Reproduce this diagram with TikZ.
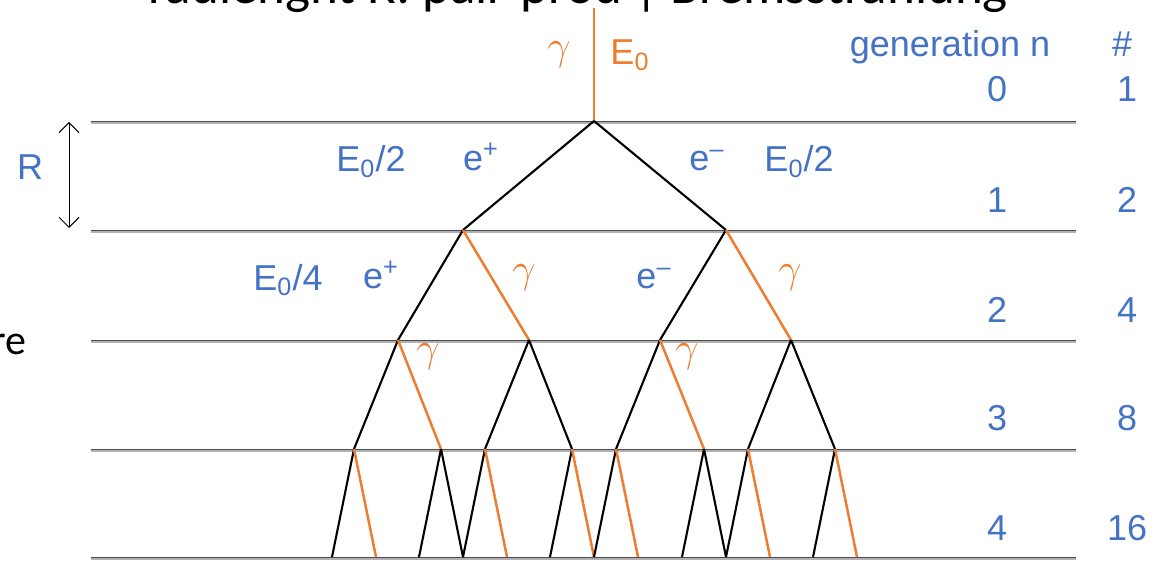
\documentclass[tikz,border=0pt]{standalone}
\usepackage{fontspec}
\setmainfont{Liberation Sans}
\newfontfamily\titlefont{Carlito}
\usetikzlibrary{arrows.meta}
\definecolor{ofcorange}{HTML}{ED7D31}
\definecolor{ofcblue}{HTML}{4472C4}
\begin{document}
\begin{tikzpicture}[x=0.5pt,y=-0.5pt,
  lvl/.style={draw=black!30, line width=1.4pt},
  lvltop/.style={draw=black!70, line width=0.45pt},
  el/.style={draw=black, line width=1.05pt},
  ph/.style={draw=ofcorange, line width=1.25pt},
  lbl/.style={text=ofcblue, font=\fontsize{18}{20}\selectfont, inner sep=0pt, anchor=base},
  glbl/.style={text=ofcorange, font=\fontsize{21}{23}\selectfont, inner sep=0pt},
  big/.style={text=black, inner sep=0pt}]
\useasboundingbox (0,0) rectangle (1154,561);
% clipped title and side text
\node[big, anchor=base west, font=\titlefont\fontsize{26.5}{28}\selectfont] (title) at (148,4) {radlenght R: pair-prod | Bremsstrahlung};
\node[big, anchor=base east, font=\titlefont\fontsize{21}{23}\selectfont] (re) at (27,354) {re};
% level lines
\foreach \y [count=\i from 0] in {121,230,340,449,557} {
  \coordinate (l\i w) at (91,\y);
  \coordinate (l\i e) at (1076,\y);
  \draw[lvl] ([yshift=-0.7pt]l\i w) -- ([yshift=-0.7pt]l\i e);
  \draw[lvltop] (l\i w) -- (l\i e);
}
% tree vertices
\coordinate (top) at (594,8);
\coordinate (r) at (594,121);
\coordinate (a1) at (463,230); \coordinate (a2) at (726,230);
\foreach \n/\x in {1/398,2/529,3/660,4/791} \coordinate (b\n) at (\x,340);
\foreach \n/\x in {1/354,2/441,3/485,4/572,5/616,6/704,7/748,8/835} \coordinate (c\n) at (\x,449);
\foreach \n/\x in {1/332,2/376,3/419,4/463,5/507,6/550,7/594,8/638,9/682,10/726,11/770,12/813,13/857} \coordinate (d\n) at (\x,557);
% edges
\draw[ph] (top) -- (r);
\draw[el] (r) -- (a1); \draw[el] (r) -- (a2);
\draw[el] (a1) -- (b1); \draw[ph] (a1) -- (b2);
\draw[el] (a2) -- (b3); \draw[ph] (a2) -- (b4);
\draw[el] (b1) -- (c1); \draw[ph] (b1) -- (c2);
\draw[el] (b2) -- (c3); \draw[el] (b2) -- (c4);
\draw[el] (b3) -- (c5); \draw[ph] (b3) -- (c6);
\draw[el] (b4) -- (c7); \draw[el] (b4) -- (c8);
\draw[el] (c1) -- (d1); \draw[ph] (c1) -- (d2);
\draw[el] (c2) -- (d3); \draw[el] (c2) -- (d4);
\draw[el] (c3) -- (d4); \draw[ph] (c3) -- (d5);
\draw[el] (c4) -- (d6); \draw[ph] (c4) -- (d7);
\draw[el] (c5) -- (d7); \draw[ph] (c5) -- (d8);
\draw[el] (c6) -- (d9); \draw[el] (c6) -- (d10);
\draw[el] (c7) -- (d10); \draw[ph] (c7) -- (d11);
\draw[el] (c8) -- (d12); \draw[ph] (c8) -- (d13);
% R arrow
\coordinate (ra) at (69,122); \coordinate (rb) at (69,228);
\draw[line width=0.5pt, {Straight Barb[length=5pt,width=10pt]}-{Straight Barb[length=5pt,width=10pt]}] (ra) -- (rb);
\node[lbl] (R) at (30,180) {R};
% top labels
\node[glbl] (g0) at (559,55) {$\gamma$};
\node[lbl, text=ofcorange] (E0) at (630,65) {E\textsubscript{0}};
\node[lbl] (gen) at (950,57) {generation n};
\node[lbl] (hash) at (1122,57) {\#};
\foreach \g/\c/\yb in {0/1/102,1/2/213,2/4/322,3/8/430,4/16/540} {
  \node[lbl] (gn\g) at (997,\yb) {\g};
  \node[lbl] (cn\g) at (1127,\yb) {\c};
}
% generation 1 labels
\node[lbl] (e1l) at (371,172) {E\textsubscript{0}/2};
\node[lbl] (ep1) at (481,170) {e\textsuperscript{+}};
\node[lbl] (em1) at (707,170) {e\textsuperscript{–}};
\node[lbl] (e1r) at (799,172) {E\textsubscript{0}/2};
% generation 2 labels
\node[lbl] (e2l) at (288,290) {E\textsubscript{0}/4};
\node[lbl] (ep2) at (381,288) {e\textsuperscript{+}};
\node[glbl] (g2a) at (524,278) {$\gamma$};
\node[lbl] (em2) at (654,288) {e\textsuperscript{–}};
\node[glbl] (g2b) at (790,278) {$\gamma$};
% generation 3 labels
\node[glbl] (g3a) at (428,357) {$\gamma$};
\node[glbl] (g3b) at (687,357) {$\gamma$};
\end{tikzpicture}
\end{document}
